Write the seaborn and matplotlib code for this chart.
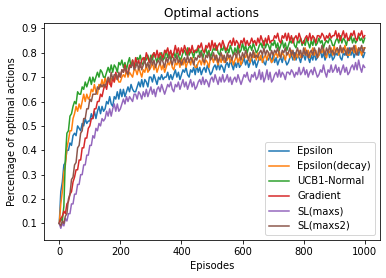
import numpy as np
import pandas as pd
import seaborn as sns
import matplotlib
matplotlib.use("Agg")
import matplotlib.pyplot as plt

episodes = list(range(0, 1001, 5))

epsilon = [
    0.10, 0.23, 0.27, 0.34, 0.35, 0.40, 0.40, 0.43, 0.42, 0.46,
    0.47, 0.46, 0.50, 0.49, 0.48, 0.51, 0.50, 0.53, 0.51, 0.52,
    0.52, 0.55, 0.53, 0.56, 0.53, 0.56, 0.58, 0.55, 0.58, 0.56,
    0.57, 0.60, 0.59, 0.62, 0.59, 0.58, 0.62, 0.61, 0.64, 0.61,
    0.65, 0.62, 0.65, 0.62, 0.64, 0.66, 0.64, 0.67, 0.65, 0.64,
    0.64, 0.66, 0.68, 0.66, 0.69, 0.66, 0.69, 0.68, 0.66, 0.70,
    0.70, 0.68, 0.71, 0.69, 0.67, 0.70, 0.69, 0.71, 0.69, 0.70,
    0.70, 0.72, 0.69, 0.71, 0.69, 0.71, 0.73, 0.70, 0.72, 0.69,
    0.71, 0.73, 0.72, 0.74, 0.71, 0.70, 0.73, 0.72, 0.74, 0.71,
    0.75, 0.72, 0.74, 0.71, 0.73, 0.74, 0.72, 0.75, 0.73, 0.71,
    0.72, 0.74, 0.75, 0.73, 0.76, 0.73, 0.75, 0.74, 0.72, 0.75,
    0.76, 0.74, 0.77, 0.75, 0.73, 0.76, 0.74, 0.77, 0.74, 0.75,
    0.76, 0.78, 0.75, 0.77, 0.74, 0.76, 0.78, 0.75, 0.77, 0.74,
    0.76, 0.78, 0.77, 0.79, 0.76, 0.75, 0.78, 0.77, 0.79, 0.76,
    0.79, 0.76, 0.78, 0.75, 0.77, 0.78, 0.76, 0.79, 0.77, 0.75,
    0.76, 0.78, 0.79, 0.77, 0.80, 0.77, 0.79, 0.78, 0.76, 0.79,
    0.79, 0.77, 0.80, 0.78, 0.76, 0.79, 0.77, 0.80, 0.77, 0.78,
    0.79, 0.81, 0.78, 0.80, 0.77, 0.79, 0.81, 0.78, 0.80, 0.77,
    0.78, 0.80, 0.79, 0.81, 0.78, 0.77, 0.80, 0.79, 0.81, 0.78,
    0.82, 0.79, 0.81, 0.78, 0.80, 0.81, 0.79, 0.82, 0.80, 0.78,
    0.80]

epsilon_decay = [
    0.10, 0.18, 0.23, 0.31, 0.34, 0.41, 0.44, 0.48, 0.48, 0.53,
    0.55, 0.58, 0.56, 0.59, 0.57, 0.60, 0.63, 0.60, 0.63, 0.61,
    0.62, 0.65, 0.64, 0.67, 0.64, 0.63, 0.67, 0.66, 0.69, 0.66,
    0.70, 0.67, 0.69, 0.67, 0.69, 0.70, 0.68, 0.71, 0.70, 0.68,
    0.68, 0.70, 0.71, 0.70, 0.73, 0.70, 0.72, 0.71, 0.70, 0.73,
    0.73, 0.71, 0.74, 0.72, 0.70, 0.73, 0.72, 0.75, 0.72, 0.73,
    0.74, 0.76, 0.73, 0.75, 0.72, 0.74, 0.76, 0.73, 0.75, 0.72,
    0.74, 0.76, 0.75, 0.77, 0.74, 0.73, 0.76, 0.75, 0.77, 0.74,
    0.78, 0.75, 0.77, 0.74, 0.76, 0.77, 0.75, 0.78, 0.76, 0.74,
    0.74, 0.76, 0.77, 0.75, 0.78, 0.75, 0.77, 0.76, 0.74, 0.78,
    0.78, 0.76, 0.79, 0.77, 0.75, 0.78, 0.76, 0.79, 0.76, 0.77,
    0.77, 0.79, 0.76, 0.78, 0.75, 0.77, 0.79, 0.76, 0.78, 0.75,
    0.77, 0.79, 0.78, 0.80, 0.77, 0.76, 0.79, 0.78, 0.80, 0.77,
    0.80, 0.77, 0.79, 0.76, 0.78, 0.79, 0.77, 0.80, 0.78, 0.76,
    0.77, 0.79, 0.80, 0.78, 0.81, 0.78, 0.80, 0.79, 0.77, 0.80,
    0.80, 0.78, 0.81, 0.79, 0.77, 0.80, 0.78, 0.81, 0.78, 0.79,
    0.80, 0.82, 0.79, 0.81, 0.78, 0.80, 0.82, 0.79, 0.81, 0.78,
    0.79, 0.81, 0.80, 0.82, 0.79, 0.78, 0.81, 0.80, 0.82, 0.79,
    0.83, 0.80, 0.82, 0.79, 0.81, 0.82, 0.80, 0.83, 0.81, 0.79,
    0.79, 0.81, 0.82, 0.80, 0.83, 0.80, 0.82, 0.81, 0.79, 0.82,
    0.82]

ucb1_normal = [
    0.10, 0.12, 0.11, 0.17, 0.37, 0.47, 0.48, 0.54, 0.55, 0.58,
    0.60, 0.59, 0.64, 0.63, 0.63, 0.66, 0.65, 0.68, 0.66, 0.68,
    0.70, 0.67, 0.70, 0.68, 0.70, 0.72, 0.70, 0.73, 0.72, 0.70,
    0.70, 0.72, 0.74, 0.72, 0.75, 0.72, 0.75, 0.74, 0.72, 0.76,
    0.75, 0.77, 0.74, 0.76, 0.73, 0.76, 0.78, 0.74, 0.77, 0.74,
    0.75, 0.78, 0.77, 0.79, 0.76, 0.75, 0.78, 0.77, 0.79, 0.76,
    0.79, 0.77, 0.80, 0.78, 0.76, 0.79, 0.77, 0.80, 0.77, 0.78,
    0.81, 0.78, 0.80, 0.77, 0.79, 0.80, 0.78, 0.81, 0.79, 0.77,
    0.78, 0.80, 0.81, 0.79, 0.82, 0.79, 0.81, 0.80, 0.78, 0.81,
    0.80, 0.82, 0.79, 0.81, 0.78, 0.80, 0.82, 0.79, 0.81, 0.78,
    0.80, 0.82, 0.81, 0.83, 0.80, 0.79, 0.82, 0.81, 0.83, 0.80,
    0.82, 0.80, 0.83, 0.81, 0.79, 0.82, 0.80, 0.83, 0.80, 0.81,
    0.84, 0.81, 0.83, 0.80, 0.82, 0.83, 0.81, 0.84, 0.82, 0.80,
    0.81, 0.83, 0.84, 0.82, 0.85, 0.82, 0.84, 0.83, 0.81, 0.84,
    0.83, 0.85, 0.82, 0.84, 0.81, 0.83, 0.85, 0.82, 0.84, 0.81,
    0.83, 0.85, 0.84, 0.86, 0.83, 0.82, 0.85, 0.84, 0.86, 0.83,
    0.85, 0.83, 0.86, 0.84, 0.82, 0.85, 0.83, 0.86, 0.83, 0.84,
    0.86, 0.84, 0.85, 0.82, 0.84, 0.85, 0.84, 0.86, 0.85, 0.83,
    0.83, 0.85, 0.86, 0.84, 0.87, 0.84, 0.86, 0.85, 0.83, 0.86,
    0.85, 0.87, 0.84, 0.86, 0.84, 0.85, 0.87, 0.85, 0.86, 0.84,
    0.86]

gradient = [
    0.10, 0.12, 0.13, 0.15, 0.14, 0.18, 0.19, 0.22, 0.23, 0.27,
    0.29, 0.32, 0.32, 0.36, 0.36, 0.41, 0.41, 0.45, 0.45, 0.49,
    0.50, 0.53, 0.53, 0.57, 0.57, 0.60, 0.60, 0.63, 0.62, 0.65,
    0.67, 0.65, 0.69, 0.68, 0.66, 0.70, 0.68, 0.72, 0.69, 0.71,
    0.70, 0.73, 0.72, 0.75, 0.72, 0.72, 0.75, 0.74, 0.77, 0.74,
    0.78, 0.75, 0.77, 0.74, 0.77, 0.78, 0.76, 0.80, 0.78, 0.76,
    0.77, 0.79, 0.80, 0.78, 0.81, 0.78, 0.80, 0.79, 0.78, 0.81,
    0.80, 0.82, 0.79, 0.81, 0.78, 0.80, 0.83, 0.80, 0.82, 0.79,
    0.82, 0.80, 0.83, 0.81, 0.79, 0.82, 0.80, 0.83, 0.80, 0.81,
    0.81, 0.83, 0.82, 0.84, 0.81, 0.80, 0.83, 0.82, 0.84, 0.81,
    0.85, 0.82, 0.84, 0.81, 0.83, 0.84, 0.82, 0.85, 0.83, 0.81,
    0.82, 0.84, 0.85, 0.83, 0.86, 0.83, 0.85, 0.84, 0.82, 0.85,
    0.84, 0.86, 0.83, 0.85, 0.83, 0.84, 0.86, 0.84, 0.85, 0.83,
    0.86, 0.84, 0.87, 0.85, 0.83, 0.86, 0.84, 0.87, 0.84, 0.85,
    0.85, 0.87, 0.86, 0.88, 0.85, 0.84, 0.87, 0.86, 0.88, 0.85,
    0.88, 0.85, 0.87, 0.84, 0.86, 0.87, 0.85, 0.88, 0.86, 0.84,
    0.84, 0.86, 0.87, 0.85, 0.88, 0.85, 0.87, 0.86, 0.84, 0.87,
    0.87, 0.86, 0.88, 0.87, 0.85, 0.87, 0.86, 0.88, 0.86, 0.87,
    0.87, 0.89, 0.86, 0.88, 0.85, 0.87, 0.89, 0.86, 0.88, 0.85,
    0.86, 0.88, 0.87, 0.89, 0.86, 0.85, 0.88, 0.87, 0.89, 0.86,
    0.87]

sl_maxs = [
    0.10, 0.08, 0.10, 0.09, 0.12, 0.11, 0.14, 0.14, 0.18, 0.18,
    0.22, 0.22, 0.26, 0.26, 0.30, 0.30, 0.34, 0.34, 0.38, 0.38,
    0.42, 0.42, 0.46, 0.45, 0.49, 0.48, 0.51, 0.50, 0.53, 0.52,
    0.53, 0.56, 0.54, 0.57, 0.54, 0.57, 0.59, 0.56, 0.59, 0.56,
    0.57, 0.59, 0.61, 0.59, 0.62, 0.60, 0.62, 0.61, 0.60, 0.63,
    0.63, 0.61, 0.64, 0.63, 0.61, 0.64, 0.62, 0.65, 0.62, 0.64,
    0.66, 0.63, 0.65, 0.62, 0.65, 0.66, 0.64, 0.67, 0.65, 0.63,
    0.65, 0.67, 0.66, 0.68, 0.65, 0.64, 0.67, 0.66, 0.68, 0.65,
    0.67, 0.69, 0.66, 0.68, 0.65, 0.67, 0.69, 0.66, 0.68, 0.65,
    0.66, 0.68, 0.69, 0.67, 0.70, 0.67, 0.69, 0.68, 0.66, 0.69,
    0.70, 0.68, 0.71, 0.69, 0.67, 0.70, 0.68, 0.71, 0.68, 0.69,
    0.71, 0.68, 0.70, 0.67, 0.69, 0.70, 0.68, 0.71, 0.69, 0.67,
    0.69, 0.71, 0.70, 0.72, 0.69, 0.68, 0.71, 0.70, 0.72, 0.69,
    0.70, 0.73, 0.69, 0.72, 0.68, 0.70, 0.73, 0.69, 0.72, 0.68,
    0.69, 0.71, 0.72, 0.70, 0.73, 0.70, 0.72, 0.71, 0.69, 0.72,
    0.72, 0.71, 0.73, 0.72, 0.70, 0.72, 0.71, 0.74, 0.71, 0.72,
    0.74, 0.71, 0.73, 0.70, 0.72, 0.73, 0.71, 0.74, 0.72, 0.70,
    0.71, 0.73, 0.72, 0.75, 0.72, 0.70, 0.73, 0.72, 0.75, 0.72,
    0.73, 0.75, 0.72, 0.74, 0.71, 0.73, 0.75, 0.72, 0.74, 0.71,
    0.72, 0.74, 0.75, 0.73, 0.76, 0.73, 0.77, 0.74, 0.72, 0.75,
    0.74]

sl_maxs2 = [
    0.10, 0.09, 0.11, 0.10, 0.13, 0.14, 0.20, 0.22, 0.28, 0.29,
    0.34, 0.35, 0.41, 0.42, 0.47, 0.48, 0.53, 0.53, 0.57, 0.57,
    0.61, 0.60, 0.63, 0.63, 0.63, 0.66, 0.65, 0.67, 0.66, 0.67,
    0.66, 0.68, 0.70, 0.68, 0.72, 0.69, 0.71, 0.71, 0.69, 0.72,
    0.70, 0.73, 0.72, 0.74, 0.72, 0.71, 0.74, 0.74, 0.76, 0.73,
    0.74, 0.76, 0.73, 0.76, 0.73, 0.75, 0.77, 0.74, 0.76, 0.73,
    0.78, 0.75, 0.77, 0.74, 0.76, 0.77, 0.75, 0.78, 0.76, 0.74,
    0.78, 0.76, 0.79, 0.77, 0.75, 0.78, 0.76, 0.79, 0.76, 0.77,
    0.75, 0.77, 0.78, 0.76, 0.79, 0.76, 0.78, 0.77, 0.75, 0.78,
    0.77, 0.79, 0.78, 0.80, 0.77, 0.76, 0.79, 0.78, 0.80, 0.77,
    0.78, 0.80, 0.77, 0.79, 0.76, 0.78, 0.80, 0.77, 0.79, 0.76,
    0.80, 0.78, 0.79, 0.77, 0.79, 0.80, 0.78, 0.81, 0.79, 0.77,
    0.80, 0.78, 0.81, 0.79, 0.77, 0.80, 0.78, 0.81, 0.78, 0.79,
    0.78, 0.80, 0.81, 0.79, 0.82, 0.79, 0.81, 0.80, 0.78, 0.81,
    0.79, 0.81, 0.80, 0.82, 0.79, 0.78, 0.81, 0.80, 0.82, 0.79,
    0.80, 0.82, 0.79, 0.81, 0.78, 0.80, 0.82, 0.79, 0.81, 0.78,
    0.82, 0.79, 0.81, 0.78, 0.80, 0.81, 0.79, 0.82, 0.80, 0.78,
    0.82, 0.80, 0.83, 0.81, 0.79, 0.82, 0.80, 0.83, 0.80, 0.81,
    0.79, 0.81, 0.82, 0.80, 0.83, 0.80, 0.82, 0.81, 0.79, 0.82,
    0.80, 0.82, 0.81, 0.83, 0.80, 0.79, 0.82, 0.81, 0.83, 0.80,
    0.82]

series_names = ["Epsilon", "Epsilon(decay)", "UCB1-Normal", "Gradient", "SL(maxs)", "SL(maxs2)"]
series_values = [epsilon, epsilon_decay, ucb1_normal, gradient, sl_maxs, sl_maxs2]

frames = []
for name, vals in zip(series_names, series_values):
    frames.append(pd.DataFrame({"Episodes": episodes, "value": vals, "method": name}))
df = pd.concat(frames, ignore_index=True)

fig = plt.figure(figsize=(386 / 72, 278 / 72), dpi=72)
ax = fig.add_axes([44 / 386, 38 / 278, 336 / 386, 217 / 278])

palette = sns.color_palette("tab10", 6)
sns.lineplot(data=df, x="Episodes", y="value", hue="method", hue_order=series_names,
             palette=palette, estimator=None, sort=False, linewidth=1.5, ax=ax)

ax.set_title("Optimal actions", fontsize=12)
ax.set_xlabel("Episodes", fontsize=10)
ax.set_ylabel("Percentage of optimal actions", fontsize=10)
ax.set_xticks([0, 200, 400, 600, 800, 1000])
ax.set_yticks([0.1, 0.2, 0.3, 0.4, 0.5, 0.6, 0.7, 0.8, 0.9])
ax.set_xlim(-50, 1050)
ax.set_ylim(0.032, 0.922)
ax.tick_params(labelsize=10)
ax.legend(loc="lower right", fontsize=10)

fig.savefig("out.png", dpi=72)
